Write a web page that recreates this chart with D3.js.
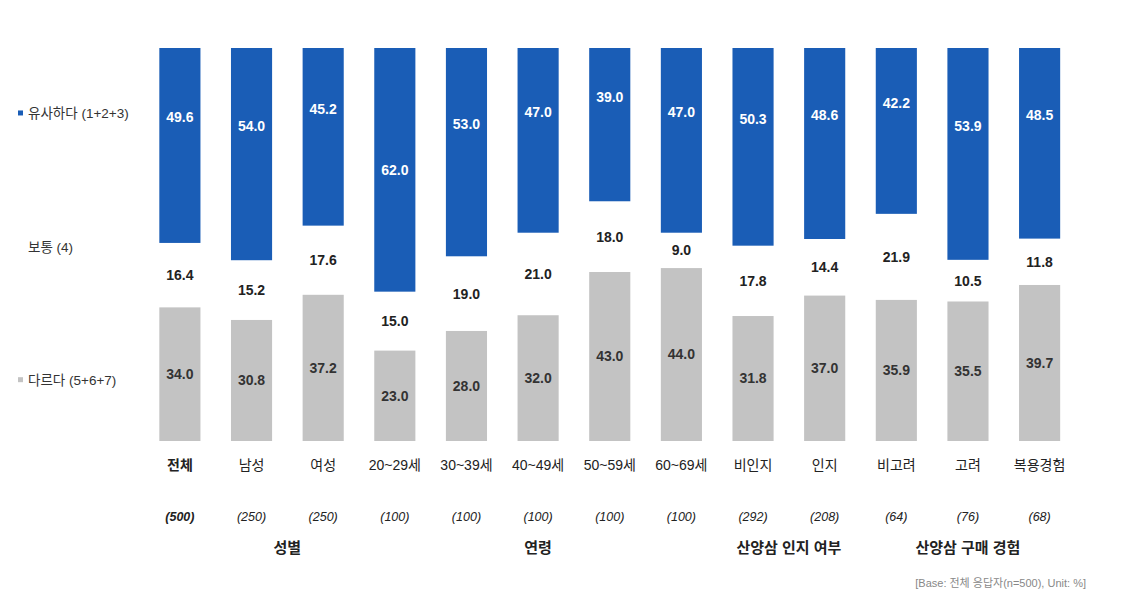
<!DOCTYPE html>
<html><head><meta charset="utf-8">
<script src="https://cdn.jsdelivr.net/npm/d3@7/dist/d3.min.js"></script>
<style>
html,body{margin:0;padding:0;background:#fff;}
svg text{font-family:"Liberation Sans","Noto Sans CJK KR",sans-serif;}
</style></head>
<body><svg id="c" width="1136" height="614"></svg>
<script>
const categories = ["전체","남성","여성","20~29세","30~39세","40~49세","50~59세","60~69세","비인지","인지","비고려","고려","복용경험"];
const sampleSizes = ["(500)","(250)","(250)","(100)","(100)","(100)","(100)","(100)","(292)","(208)","(64)","(76)","(68)"];
const similar = [49.6,54.0,45.2,62.0,53.0,47.0,39.0,47.0,50.3,48.6,42.2,53.9,48.5];
const neutral = [16.4,15.2,17.6,15.0,19.0,21.0,18.0,9.0,17.8,14.4,21.9,10.5,11.8];
const different = [34.0,30.8,37.2,23.0,28.0,32.0,43.0,44.0,31.8,37.0,35.9,35.5,39.7];
const groupNames = ["성별","연령","산양삼 인지 여부","산양삼 구매 경험"];
const groupFrom = ["남성","20~29세","비인지","비고려"];
const groupTo = ["여성","60~69세","인지","복용경험"];
const legendLabels = ["유사하다 (1+2+3)","보통 (4)","다르다 (5+6+7)"];
const footnote = "[Base: 전체 응답자(n=500), Unit: %]";

const BLUE = "#1a5db6", GREY = "#c3c3c3";
const svg = d3.select("#c");
const x = d3.scaleBand().domain(categories).range([145, 1074.5]).paddingInner(0.426).paddingOuter(0.2);
const y = d3.scaleLinear().domain([0,100]).range([48,441]);
const bw = x.bandwidth();

const rows = categories.map((c,i)=>({c, s:similar[i], n:neutral[i], d:different[i], size:sampleSizes[i]}));

svg.append("g").selectAll("rect").data(rows).join("rect")
  .attr("x", d=>x(d.c)).attr("y", y(0)).attr("width", bw)
  .attr("height", d=>y(d.s)-y(0)).attr("fill", BLUE);
svg.append("g").selectAll("rect").data(rows).join("rect")
  .attr("x", d=>x(d.c)).attr("y", d=>y(100-d.d)).attr("width", bw)
  .attr("height", d=>y(100)-y(100-d.d)).attr("fill", GREY);

const lbl = svg.append("g").attr("text-anchor","middle").attr("font-weight","bold").attr("font-size",14);
lbl.selectAll(".s").data(rows).join("text")
  .attr("x", d=>x(d.c)+bw/2).attr("y", d=>d.s>60 ? y(d.s/2) : y(d.s/2)-28).attr("dy","0.35em")
  .attr("fill","#fff").text(d=>d.s.toFixed(1));
lbl.selectAll(".n").data(rows).join("text")
  .attr("x", d=>x(d.c)+bw/2).attr("y", d=>(y(d.s)+y(100-d.d))/2).attr("dy","0.35em")
  .attr("fill","#222").text(d=>d.n.toFixed(1));
lbl.selectAll(".d").data(rows).join("text")
  .attr("x", d=>x(d.c)+bw/2).attr("y", d=>y(100-d.d/2)).attr("dy","0.35em")
  .attr("fill","#333").text(d=>d.d.toFixed(1));

const ax = svg.append("g").attr("text-anchor","middle");
ax.selectAll(".cat").data(rows).join("text")
  .attr("x", d=>x(d.c)+bw/2).attr("y", 465).attr("dy","0.35em")
  .attr("font-size",14).attr("fill","#222")
  .attr("font-weight",(d,i)=>i===0?"bold":"normal").text(d=>d.c);
ax.selectAll(".sz").data(rows).join("text")
  .attr("x", d=>x(d.c)+bw/2).attr("y", 517).attr("dy","0.35em")
  .attr("font-size",12.5).attr("font-style","italic").attr("fill","#222")
  .attr("font-weight",(d,i)=>i===0?"bold":"normal").text(d=>d.size);
ax.selectAll(".grp").data(groupNames).join("text")
  .attr("x", (g,i)=>(x(groupFrom[i])+x(groupTo[i])+bw)/2).attr("y", 548).attr("dy","0.35em")
  .attr("font-size",15).attr("font-weight","bold").attr("fill","#222").text(g=>g);

const legY = [y(similar[0]/2)-32, (y(similar[0])+y(100-different[0]))/2-28, y(100-different[0]/2)+6];
const legColors = [BLUE, null, GREY];
const leg = svg.append("g");
legendLabels.forEach((t,i)=>{
  if (legColors[i]) leg.append("rect").attr("x",18).attr("y",legY[i]-3).attr("width",5).attr("height",5).attr("fill",legColors[i]);
  leg.append("text").attr("x", 28).attr("y", legY[i]).attr("dy","0.35em")
    .attr("font-size",13.5).attr("fill","#333").text(t);
});

svg.append("text").attr("x",1086).attr("y",583).attr("dy","0.35em").attr("text-anchor","end")
  .attr("font-size",11).attr("fill","#888").text(footnote);
</script></body></html>
